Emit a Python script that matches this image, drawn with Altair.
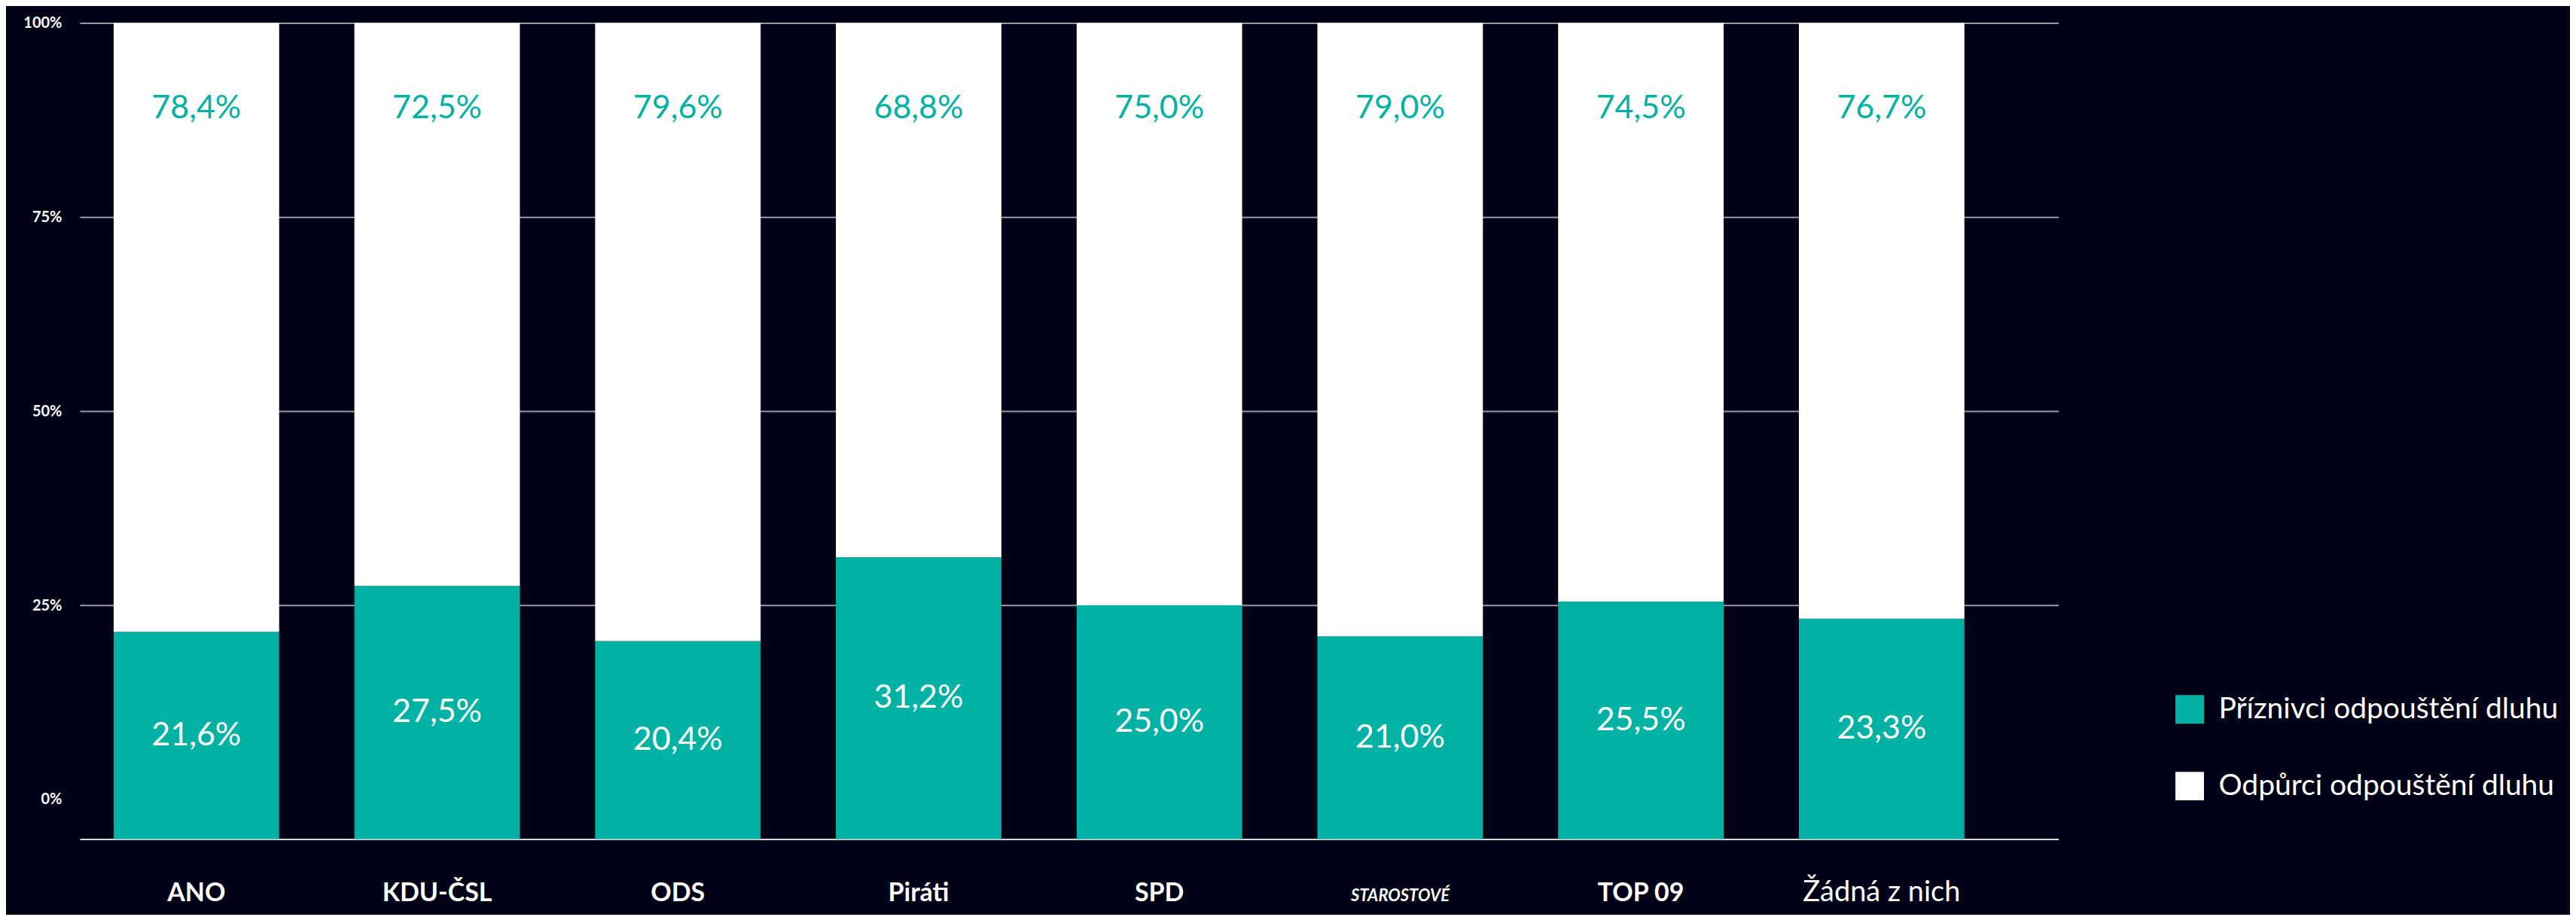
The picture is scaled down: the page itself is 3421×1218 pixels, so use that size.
import altair as alt
import pandas as pd

# ---- data ----
parties = ["ANO", "KDU-ČSL", "ODS", "Piráti", "SPD", "STAROSTOVÉ", "TOP 09", "Žádná z nich"]
supporters = [21.6, 27.5, 20.4, 31.2, 25.0, 21.0, 25.5, 23.3]
opponents = [78.4, 72.5, 79.6, 68.8, 75.0, 79.0, 74.5, 76.7]
series = ["Příznivci odpouštění dluhu", "Odpůrci odpouštění dluhu"]
y_ticks = [0, 25, 50, 75, 100]

Y_MIN = -5.1
BG = "#000016"
TEAL = "#00B2A3"
FONT = "Lato"

rows = []
for p, s, o in zip(parties, supporters, opponents):
    rows.append({"party": p, "series": series[0], "low": Y_MIN, "high": s, "value": s})
    rows.append({"party": p, "series": series[1], "low": s, "high": 100.0, "value": o})
df = pd.DataFrame(rows)

x_enc = alt.X(
    "party:N",
    sort=parties,
    scale=alt.Scale(paddingInner=0.3125, paddingOuter=0.2656, align=0.265),
    axis=alt.Axis(
        title=None,
        labelAngle=0,
        ticks=False,
        grid=False,
        domain=True,
        domainColor="#D8D8D8",
        domainWidth=2,
        labelColor="white",
        labelFont=FONT,
        labelPadding=82,
        labelBaseline="alphabetic",
        labelLimit=400,
        labelFontWeight={"condition": {"test": "datum.label == 'Žádná z nich'", "value": "normal"}, "value": "bold"},
        labelFontStyle={"condition": {"test": "datum.label == 'STAROSTOVÉ'", "value": "italic"}, "value": "normal"},
        labelFontSize={"condition": [
            {"test": "datum.label == 'Žádná z nich'", "value": 38},
            {"test": "datum.label == 'STAROSTOVÉ'", "value": 22},
        ], "value": 34},
    ),
)

y_scale = alt.Scale(domain=[Y_MIN, 100], nice=False, zero=False)

bars = alt.Chart(df).mark_bar().encode(
    x=x_enc,
    y=alt.Y(
        "high:Q",
        scale=y_scale,
        axis=alt.Axis(
            title=None,
            values=y_ticks,
            labelExpr="datum.value + '%'",
            domain=False,
            ticks=False,
            grid=True,
            gridColor="#9A9AA6",
            gridWidth=2,
            gridOpacity={"condition": {"test": "datum.value === 0", "value": 0}, "value": 1},
            labelColor="white",
            labelFont=FONT,
            labelFontWeight="bold",
            labelFontSize=20,
            labelPadding=24,
        ),
    ),
    y2="low:Q",
    color=alt.Color(
        "series:N",
        scale=alt.Scale(domain=series, range=[TEAL, "#FFFFFF"]),
        legend=alt.Legend(
            title=None,
            orient="none",
            legendX=2785,
            legendY=893,
            symbolType="square",
            symbolSize=1444,
            symbolStrokeWidth=0,
            symbolOpacity=1,
            labelFont=FONT,
            labelFontSize=39,
            labelColor="white",
            labelOffset=19,
            labelLimit=800,
            rowPadding=62,
        ),
    ),
)

labels = alt.Chart(df).transform_calculate(
    label="replace(format(datum.value, '.1f'), '.', ',') + '%'",
    ly=f"datum.series == '{series[0]}' ? (datum.low + datum.high) / 2 : 89",
).mark_text(font=FONT, fontSize=43, align="center", baseline="middle").encode(
    x=alt.X("party:N", sort=parties),
    y=alt.Y("ly:Q", scale=y_scale),
    text="label:N",
    color=alt.condition(f"datum.series == '{series[0]}'", alt.value("#FFFFFF"), alt.value(TEAL)),
)

chart = alt.layer(bars, labels).properties(
    width=2630,
    height=1085,
    padding={"left": 98, "top": 22, "right": 680, "bottom": 100},
    autosize=alt.AutoSizeParams(type="none"),
    background=BG,
).configure_view(stroke=None)

chart.save("out.html", embed_options={"renderer": "svg", "actions": False})
